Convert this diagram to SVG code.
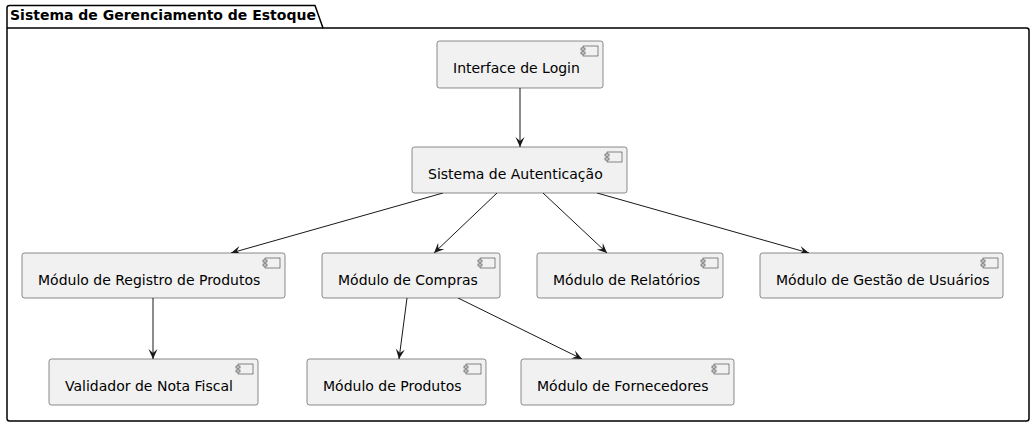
<svg xmlns="http://www.w3.org/2000/svg" width="1035" height="427" viewBox="0 0 1035 427">
<defs>
<style>
.box{fill:#F1F1F1;stroke:#181818;stroke-width:0.5}
.node text{font-family:"DejaVu Sans",sans-serif;font-size:14px;fill:#000}
.edge{stroke:#181818;stroke-width:1;fill:none;marker-end:url(#ah)}
.title{font-family:"DejaVu Sans",sans-serif;font-size:14px;font-weight:bold;fill:#000}
</style>
<marker id="ah" viewBox="0 0 12 12" refX="11" refY="6" markerWidth="12" markerHeight="12" markerUnits="userSpaceOnUse" orient="auto">
<path d="M11,6 L1,1.5 L5,6 L1,10.5 Z" fill="#181818"/>
</marker>
<g id="icon">
<rect x="0" y="0" width="15" height="10" fill="#F1F1F1" stroke="#181818" stroke-width="0.5"/>
<rect x="-2" y="2" width="4" height="2" fill="#F1F1F1" stroke="#181818" stroke-width="0.5"/>
<rect x="-2" y="6" width="4" height="2" fill="#F1F1F1" stroke="#181818" stroke-width="0.5"/>
</g>
</defs>
<rect width="1035" height="427" fill="#FFFFFF"/>
<g id="package">
<path d="M7,28 L7,8 Q7,5.5 9.5,5.5 L315,5.5 L323,28 L1026.5,28 Q1029,28 1029,30.5 L1029,418.5 Q1029,421 1026.5,421 L9.5,421 Q7,421 7,418.5 Z" fill="none" stroke="#000" stroke-width="1.5"/>
<line x1="7" y1="28" x2="323" y2="28" stroke="#000" stroke-width="1.5"/>
<text class="title" x="10" y="20">Sistema de Gerenciamento de Estoque</text>
</g>
<g id="connectors">
<line class="edge" x1="520" y1="88" x2="520" y2="147"/>
<line class="edge" x1="443" y1="193" x2="231" y2="253"/>
<line class="edge" x1="497" y1="193" x2="434" y2="253"/>
<line class="edge" x1="543" y1="193" x2="607" y2="253"/>
<line class="edge" x1="597" y1="193" x2="809" y2="253"/>
<line class="edge" x1="153" y1="298" x2="153" y2="359"/>
<line class="edge" x1="407" y1="298" x2="399" y2="359"/>
<line class="edge" x1="458" y1="298" x2="582" y2="359"/>
</g>
<g id="login" class="node">
<rect class="box" x="437" y="41" width="166" height="47" rx="2.5"/>
<use href="#icon" x="583" y="46"/>
<text x="453" y="73">Interface de Login</text>
</g>
<g id="auth" class="node">
<rect class="box" x="412" y="147" width="215" height="46" rx="2.5"/>
<use href="#icon" x="607" y="152"/>
<text x="428" y="179">Sistema de Autenticação</text>
</g>
<g id="registro" class="node">
<rect class="box" x="22" y="253" width="263" height="45" rx="2.5"/>
<use href="#icon" x="265" y="258"/>
<text x="38" y="285">Módulo de Registro de Produtos</text>
</g>
<g id="compras" class="node">
<rect class="box" x="322" y="253" width="178" height="45" rx="2.5"/>
<use href="#icon" x="480" y="258"/>
<text x="338" y="285">Módulo de Compras</text>
</g>
<g id="relatorios" class="node">
<rect class="box" x="537" y="253" width="186" height="45" rx="2.5"/>
<use href="#icon" x="703" y="258"/>
<text x="553" y="285">Módulo de Relatórios</text>
</g>
<g id="usuarios" class="node">
<rect class="box" x="760" y="253" width="243" height="45" rx="2.5"/>
<use href="#icon" x="983" y="258"/>
<text x="776" y="285">Módulo de Gestão de Usuários</text>
</g>
<g id="validador" class="node">
<rect class="box" x="49" y="359" width="209" height="46" rx="2.5"/>
<use href="#icon" x="238" y="364"/>
<text x="65" y="391">Validador de Nota Fiscal</text>
</g>
<g id="produtos" class="node">
<rect class="box" x="307" y="359" width="179" height="46" rx="2.5"/>
<use href="#icon" x="466" y="364"/>
<text x="323" y="391">Módulo de Produtos</text>
</g>
<g id="fornecedores" class="node">
<rect class="box" x="521" y="359" width="213" height="46" rx="2.5"/>
<use href="#icon" x="714" y="364"/>
<text x="537" y="391">Módulo de Fornecedores</text>
</g>
</svg>
